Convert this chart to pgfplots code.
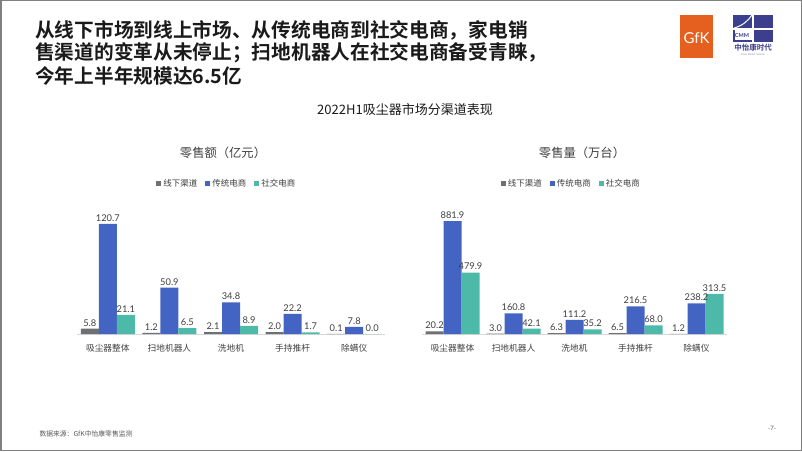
\documentclass[border=0pt]{standalone}
\usepackage{fontspec}
\setmainfont{Lato}
\newfontfamily\cjk[BoldFont={Noto Sans CJK SC Bold}]{Noto Sans CJK SC}
\usepackage{pgfplots}
\usepackage{pgfplotstable}
\pgfplotsset{compat=1.18}
\definecolor{cgray}{HTML}{6D7075}
\definecolor{cblue}{HTML}{4464C4}
\definecolor{cteal}{HTML}{4DB9A8}
\definecolor{framegray}{HTML}{808080}
\definecolor{labelgray}{HTML}{404040}
\definecolor{axisgray}{HTML}{D9D9D9}
\definecolor{titleblack}{HTML}{1A1A1A}
\definecolor{footgray}{HTML}{595959}
\definecolor{gfkorange}{HTML}{E5601E}
\definecolor{navy}{HTML}{3B3F8C}

\pgfplotstableread{
x gray blue teal
0 5.8 120.7 21.1
1 1.2 50.9 6.5
2 2.1 34.8 8.9
3 2.0 22.2 1.7
4 0.1 7.8 0.0
}\sales
\pgfplotstableread{
x gray blue teal
0 20.2 881.9 479.9
1 3.0 160.8 42.1
2 6.3 111.2 35.2
3 6.5 216.5 68.0
4 1.2 238.2 313.5
}\units

\pgfplotsset{
  chan/.style={
    scale only axis, height=130pt,
    ybar=0pt, bar width=18pt,
    xmin=-0.5, xmax=4.5, ymin=0,
    axis x line=bottom, hide y axis,
    axis line style={draw=axisgray, line width=0.8pt, -},
    xtick={0,1,2,3,4},
    xticklabels={吸尘器整体,扫地机器人,洗地机,手持推杆,除螨仪},
    major tick length=0pt,
    xticklabel style={font=\cjk\fontsize{8.7}{10}\selectfont, text=labelgray, yshift=-7pt},
    nodes near coords,
    every node near coord/.append style={font=\fontsize{9.3}{10}\selectfont, text=labelgray, inner sep=2.3pt},
    /pgf/number format/.cd, fixed, fixed zerofill, precision=1, assume math mode=true, /pgfplots/.cd,
    legend style={draw=none, fill=none, legend columns=3,
      font=\cjk\fontsize{8.5}{10}\selectfont, text=labelgray,
      /tikz/every even column/.append style={column sep=6pt}},
    legend image code/.code={\fill[##1] (0pt,-2.5pt) rectangle (5pt,2.5pt);},
  }
}

\begin{document}
\begin{tikzpicture}[x=1pt,y=1pt]
\useasboundingbox (0pt,0pt) rectangle (802pt,451pt);
\fill[white] (0pt,0pt) rectangle (802pt,451pt);
\draw[line width=1.5pt, color=framegray] (0.75pt,0.75pt) rectangle (801.25pt,450.25pt);

% main title
\node[anchor=west, inner sep=0, font=\cjk\bfseries\fontsize{19.7}{23}\selectfont, text=titleblack] at (35pt,421pt) {从线下市场到线上市场、从传统电商到社交电商，家电销};
\node[anchor=west, inner sep=0, font=\cjk\bfseries\fontsize{19.7}{23}\selectfont, text=titleblack] at (35pt,398pt) {售渠道的变革从未停止；扫地机器人在社交电商备受青睐，};
\node[anchor=west, inner sep=0, font=\cjk\bfseries\fontsize{19.7}{23}\selectfont, text=titleblack] at (35pt,375pt) {今年上半年规模达6.5亿};

% logos
\fill[gfkorange] (680pt,436pt) rectangle (713pt,393pt);
\node[text=white, font=\fontsize{15}{15}\selectfont] at (696.5pt,413pt) {GfK};
\fill[navy] (733pt,436pt) rectangle (773pt,409pt);
\draw[white, line width=1.2pt] (753pt,436pt)--(753pt,409pt);
\draw[white, line width=1.2pt] (733pt,422pt)--(773pt,422pt);
\fill[white] (734.5pt,421pt) rectangle (752pt,410.5pt);
\draw[white, line width=1pt] (734pt,423pt) .. controls (742pt,425pt) and (748pt,430pt) .. (752pt,436pt);
\node[font=\bfseries\fontsize{5.5}{6}\selectfont, text=navy] at (742pt,415.5pt) {CMM};
\node[font=\cjk\bfseries\fontsize{7.5}{8}\selectfont, text=navy] at (753pt,403pt) {中怡康时代};
\node[font=\fontsize{2.5}{3}\selectfont, text=navy!60] at (753pt,396pt) {China Market Monitor};

% chart title
\node[font=\cjk\fontsize{13}{15}\selectfont, text=titleblack] at (405pt,341pt) {2022H1吸尘器市场分渠道表现};
\node[font=\cjk\fontsize{12.3}{14}\selectfont, text=labelgray] at (223pt,298pt) {零售额（亿元）};
\node[font=\cjk\fontsize{12.3}{14}\selectfont, text=labelgray] at (582pt,298pt) {零售量（万台）};

% left chart
\begin{axis}[chan, at={(77pt,117pt)}, anchor=south west, width=308pt, ymax=142.6,
  legend style={at={(0.487,1.16)}, anchor=center}]
\addplot[fill=cgray, draw=none] table[x=x, y=gray] {\sales};
\addplot[fill=cblue, draw=none] table[x=x, y=blue] {\sales};
\addplot[fill=cteal, draw=none] table[x=x, y=teal] {\sales};
\legend{线下渠道,传统电商,社交电商}
\end{axis}

% right chart
\begin{axis}[chan, at={(422pt,117pt)}, anchor=south west, width=305pt, ymax=1014.6,
  legend style={at={(0.49,1.16)}, anchor=center}]
\addplot[fill=cgray, draw=none] table[x=x, y=gray] {\units};
\addplot[fill=cblue, draw=none] table[x=x, y=blue] {\units};
\addplot[fill=cteal, draw=none] table[x=x, y=teal] {\units};
\legend{线下渠道,传统电商,社交电商}
\end{axis}

% footer
\node[anchor=west, font=\cjk\fontsize{6.8}{8}\selectfont, text=footgray] at (36pt,17pt) {数据来源：GfK中怡康零售监测};
\node[font=\fontsize{6}{7}\selectfont, text=footgray] at (772pt,23pt) {-7-};
\end{tikzpicture}
\end{document}
